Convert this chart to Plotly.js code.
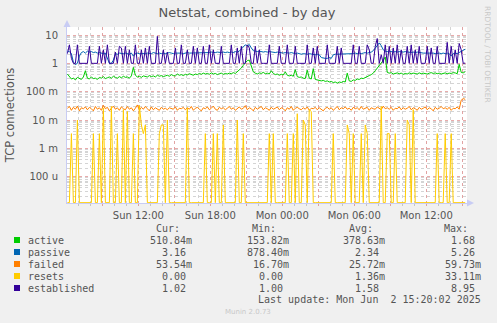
<!DOCTYPE html>
<html>
<head>
<meta charset="utf-8">
<script src="https://cdn.plot.ly/plotly-3.0.1.min.js"></script>
<style>html,body{margin:0;padding:0;background:#f0f0f0;}#chart{width:497px;height:323px;}</style>
</head>
<body>
<div id="chart"></div>
<script>
// ---- data (10-minute samples starting Sun 2025-06-01 06:05) ----
const startTime = '2025-06-01T06:05:00';
const stepMinutes = 10;

const active = [
0.42,0.33,0.28,0.3,0.26,0.32,0.3,0.27,0.33,0.55,
0.3,0.28,0.33,0.29,0.3,0.27,0.32,0.3,0.34,0.29,
0.31,0.33,0.3,0.35,0.32,0.3,0.34,0.31,0.35,0.32,
0.33,0.3,0.36,0.72,0.38,0.33,0.35,0.32,0.36,0.34,
0.33,0.37,0.34,0.36,0.33,0.38,0.35,0.37,0.34,0.36,
0.38,0.35,0.4,0.37,0.36,0.42,0.38,0.4,0.37,0.41,
0.39,0.43,0.4,0.38,0.42,0.4,0.44,0.41,0.45,0.42,
0.44,0.41,0.46,0.42,0.44,0.4,0.43,0.45,0.41,0.44,
0.42,0.45,0.43,0.47,0.44,0.5,0.6,0.68,0.85,1.05,
1.25,1.3,0.75,0.5,0.45,0.42,0.46,0.44,0.48,0.43,
0.45,0.42,0.55,0.44,0.4,0.42,0.38,0.41,0.39,0.5,
0.38,0.36,0.38,0.35,0.6,0.34,0.32,0.33,0.3,0.29,
0.57,0.3,0.28,0.65,0.27,0.26,0.25,0.24,0.25,0.23,
0.24,0.22,0.23,0.21,0.22,0.2,0.22,0.21,0.23,0.22,
0.45,0.24,0.23,0.26,0.25,0.28,0.27,0.3,0.29,0.32,
0.34,0.37,0.4,0.45,0.55,0.67,0.85,1.05,1.27,1.68,
0.48,0.45,0.47,0.42,0.44,0.46,0.43,0.45,0.41,0.44,
0.42,0.46,0.43,0.45,0.44,0.42,0.46,0.43,0.45,0.44,
0.42,0.45,0.47,0.44,0.46,0.43,0.45,0.42,0.44,0.46,
0.43,0.45,0.44,0.47,0.46,0.43,0.92,0.48,0.46,0.51];

const passive = [
2.7,2.6,2.2,1.1,0.9,1.0,1.8,2.4,2.6,2.3,
2.7,2.5,2.6,2.4,2.5,2.3,2.4,2.3,2.2,2.3,
1.6,1.0,1.0,1.3,2.2,2.1,2.3,2.2,2.2,2.3,
2.2,2.1,2.3,1.8,2.2,2.3,2.2,2.2,2.1,2.2,
2.3,2.2,2.2,2.4,2.3,2.2,2.3,2.2,2.3,2.2,
2.3,2.4,2.3,2.2,2.3,2.3,2.4,2.3,2.2,2.3,
2.4,2.3,2.3,2.4,2.3,2.4,2.3,2.4,2.3,2.4,
2.3,2.4,2.5,2.4,2.4,2.5,2.4,2.4,2.5,2.4,
2.5,2.4,2.5,2.4,2.6,2.5,2.7,3.2,3.8,4.5,
4.2,4.6,3.5,2.8,2.7,2.6,2.7,2.6,2.5,2.6,
2.5,2.6,2.5,2.5,2.4,2.5,2.4,2.4,2.3,2.4,
2.3,2.3,2.4,2.3,2.2,2.3,2.2,2.1,2.2,2.1,
2.1,2.2,2.1,2.1,2.0,2.1,2.0,1.6,1.5,1.5,
1.5,1.6,1.5,2.0,2.1,2.1,2.2,2.1,2.2,2.1,
2.2,2.1,2.2,2.2,2.3,2.2,2.3,2.2,2.3,2.4,
2.3,2.4,2.5,2.8,3.5,4.5,5.26,4.2,3.0,2.7,
2.6,2.7,2.6,2.5,2.6,2.5,2.6,2.5,2.5,2.6,
2.5,2.5,2.4,2.5,2.4,2.5,2.4,2.4,2.3,2.3,
2.3,2.4,2.3,2.3,2.2,2.3,2.3,2.2,2.3,2.2,
2.3,2.2,1.8,2.2,2.3,2.2,2.4,2.6,2.8,3.16];

const failed = [
0.026,0.03,0.022,0.028,0.024,0.031,0.021,0.027,0.025,0.029,
0.023,0.028,0.025,0.021,0.03,0.024,0.027,0.022,0.033,0.025,
0.028,0.021,0.026,0.031,0.024,0.027,0.022,0.029,0.025,0.023,
0.03,0.024,0.027,0.021,0.026,0.034,0.022,0.028,0.024,0.03,
0.025,0.021,0.029,0.023,0.027,0.025,0.022,0.028,0.024,0.026,
0.023,0.027,0.025,0.024,0.029,0.022,0.026,0.025,0.028,0.023,
0.027,0.024,0.03,0.022,0.026,0.028,0.024,0.021,0.027,0.025,
0.029,0.023,0.026,0.031,0.024,0.022,0.028,0.025,0.027,0.023,
0.026,0.03,0.024,0.027,0.022,0.025,0.029,0.024,0.026,0.032,
0.023,0.027,0.025,0.021,0.028,0.024,0.026,0.03,0.023,0.027,
0.025,0.022,0.028,0.024,0.026,0.029,0.023,0.027,0.025,0.021,
0.027,0.024,0.03,0.022,0.026,0.028,0.025,0.023,0.027,0.024,
0.029,0.022,0.026,0.025,0.028,0.023,0.027,0.024,0.021,0.026,
0.028,0.024,0.027,0.022,0.025,0.03,0.023,0.027,0.025,0.029,
0.024,0.026,0.022,0.028,0.025,0.027,0.023,0.03,0.024,0.026,
0.028,0.022,0.027,0.025,0.024,0.029,0.026,0.023,0.031,0.025,
0.027,0.024,0.028,0.022,0.026,0.025,0.029,0.023,0.027,0.024,
0.026,0.03,0.023,0.027,0.025,0.022,0.028,0.024,0.026,0.029,
0.023,0.027,0.025,0.021,0.028,0.024,0.026,0.03,0.025,0.027,
0.024,0.028,0.022,0.026,0.025,0.029,0.024,0.05,0.057,0.0535];

const resets = [
0,0,0.0033,0,0,0.01,0,0,0,0,
0,0,0,0.0033,0,0,0.0033,0,0.0267,0,
0,0,0.03,0,0,0.0033,0,0,0.0233,0,
0.02,0,0,0.0033,0,0,0.0331,0.0067,0.0033,0.0067,
0,0,0,0,0,0,0.0033,0.0067,0.0067,0,
0.01,0,0,0,0,0,0,0,0,0,
0.0267,0,0,0,0,0,0,0,0,0.0033,
0,0,0,0.0033,0,0.0033,0,0,0.0067,0,
0,0,0,0,0,0.01,0,0,0.0033,0,
0,0,0,0,0,0,0,0,0,0,
0,0.0033,0,0.0033,0,0,0,0,0,0,
0.0033,0,0,0.0033,0,0.0167,0,0,0.01,0.0067,
0,0.0233,0.02,0,0,0,0,0,0,0,
0,0,0,0.0033,0,0,0,0,0,0,
0.0067,0.0033,0,0.0033,0,0,0,0.0033,0,0.0067,
0.0033,0,0,0,0,0,0,0.03,0,0,
0.0033,0.0033,0,0,0.0033,0,0,0,0,0,
0.01,0.0067,0,0.0233,0,0,0,0,0,0,
0,0,0,0,0,0.0033,0,0,0,0.0033,
0,0,0.0033,0,0,0,0,0,0,0];

const established = [
2.2,4.5,1.5,1,1,4.5,1,1,1,1,
1,4,1,1,1,1,4,1,3,1,
4.5,1,1,1,2.5,1,4,3.5,1,4,
1,3,1,1,4.5,1,1,3,1,3.5,
1,4,1,1,1,8.95,1,1,3,1,
2.5,1,1,1,3.5,1,1,4.5,1,1,
3,1,1,4,1,3.5,1,1,4,1,
1,4.5,1,3,1,1,1,4,1,1,
1,1,4.5,1,1,3.5,1,4,1,1,
4.5,3.5,1,1,4,1,3,1,1,1,
1,4.5,1,1,1,1,4,1,1,1,
4.5,1,1,1,4,1,1,1,1,1,
4.5,1,1,3.5,1,4,1,1,1,1,
4.5,1,1,1,1,4,1,3.5,1,1,
1,1,1,4.5,1,1,4,1,1,1,
4.5,3,1,1,4,7.5,1,2,1,4.5,
1,4,1,3.5,1,4.5,1,3,1,1,
4,1,4.5,1,3,1,4,1,1,1,
4,1,3.5,1,1,4,1,1,1,1,
5.5,1,4,1,3,1,5,3,1,1.02];

const seriesNames = ['active','passive','failed','resets','established'];
const seriesColors = ['#00CC00','#0066B3','#FF8000','#FFCC00','#330099'];
const statCur = ['510.84m','3.16','53.54m','0.00','1.02'];
const statMin = ['153.82m','878.40m','16.70m','0.00','1.00'];
const statAvg = ['378.63m','2.34','25.72m','1.36m','1.58'];
const statMax = ['1.68','5.26','59.73m','33.11m','8.95'];

const yTickVals = [1e-4,1e-3,1e-2,0.1,1,10];
const yTickText = ['100 u','1 m','10 m','100 m','1','10'];
const xTickVals = ['2025-06-01 09:00','2025-06-01 12:00','2025-06-01 15:00','2025-06-01 18:00','2025-06-01 21:00',
  '2025-06-02 00:00','2025-06-02 03:00','2025-06-02 06:00','2025-06-02 09:00','2025-06-02 12:00','2025-06-02 15:00'];
const xTickText = ['','Sun 12:00','','Sun 18:00','','Mon 00:00','','Mon 06:00','','Mon 12:00',''];

// ---- layout geometry ----
const W = 497, H = 323;
const PL = 67, PR = 467, PT = 27, PB = 203;
const yLogRange = [-4.93, 1.283];
const floorVal = Math.pow(10, yLogRange[0] + 0.012);

function px2x(p){ return (p - PL) / (PR - PL); }
function px2y(p){ return (PB - p) / (PB - PT); }

const t0 = new Date(startTime + 'Z').getTime();
function timeAt(i){
  return new Date(t0 + i * stepMinutes * 60000).toISOString().slice(0,19).replace('T',' ');
}
const times = active.map((_, i) => timeAt(i));

const dataSets = [active, passive, failed, resets, established];
const traces = dataSets.map((arr, k) => ({
  x: times,
  y: arr.map(v => v > 0 ? v : floorVal),
  type: 'scatter', mode: 'lines',
  line: {color: seriesColors[k], width: 1},
  hoverinfo: 'skip'
}));

const minorY = [];
for (let d = -5; d <= 1; d++) for (let m = 2; m <= 9; m++) minorY.push(m * Math.pow(10, d));

const mono = {family: 'DejaVu Sans Mono', size: 10, color: '#555'};
const annotations = [];
const shapes = [];

// header
[['Cur:',182],['Min:',278],['Avg:',375],['Max:',470]].forEach(([t, r]) => {
  annotations.push({xref:'paper', yref:'paper', x: px2x(r), y: px2y(228), xanchor:'right', yanchor:'middle',
    text: t, showarrow:false, font: mono});
});
const rowY = [240, 252, 264, 276, 288];
const colR = [194, 291, 387, 483];
function fmt(s){ return /[a-zA-Z]$/.test(s) ? s : s + '\u00a0'; }
seriesNames.forEach((n, k) => {
  const yy = px2y(rowY[k]);
  shapes.push({type:'rect', xref:'paper', yref:'paper', x0: px2x(14), x1: px2x(20), y0: px2y(rowY[k]+3), y1: px2y(rowY[k]-3),
    fillcolor: seriesColors[k], line:{width:0}});
  annotations.push({xref:'paper', yref:'paper', x: px2x(26), y: yy, xanchor:'left', yanchor:'middle',
    text: n, showarrow:false, font: mono});
  [statCur, statMin, statAvg, statMax].forEach((col, c) => {
    annotations.push({xref:'paper', yref:'paper', x: px2x(colR[c]), y: yy, xanchor:'right', yanchor:'middle',
      text: fmt(col[k]), showarrow:false, font: mono});
  });
});
annotations.push({xref:'paper', yref:'paper', x: px2x(483), y: px2y(299), xanchor:'right', yanchor:'middle',
  text: 'Last update: Mon Jun\u00a0 2 15:20:02 2025', showarrow:false, font: mono});
annotations.push({xref:'paper', yref:'paper', x: px2x(248), y: px2y(312), xanchor:'center', yanchor:'middle',
  text: 'Munin 2.0.73', showarrow:false, font:{family:'DejaVu Sans', size:7, color:'#c8c8c8'}});
annotations.push({xref:'paper', yref:'paper', x: px2x(488), y: px2y(54), xanchor:'center', yanchor:'middle',
  text: 'RRDTOOL / TOBI OETIKER', textangle: 90, showarrow:false, font:{family:'DejaVu Sans', size:7.5, color:'#c8c8c8'}});

// axis arrows
const arrowCol = '#c8ccf4';
shapes.push({type:'path', xref:'paper', yref:'paper',
  path: `M ${px2x(63.5)},${px2y(27)} L ${px2x(70.5)},${px2y(27)} L ${px2x(67)},${px2y(20)} Z`,
  fillcolor: arrowCol, line:{width:0}});
shapes.push({type:'path', xref:'paper', yref:'paper',
  path: `M ${px2x(467)},${px2y(199.5)} L ${px2x(467)},${px2y(206.5)} L ${px2x(474)},${px2y(203)} Z`,
  fillcolor: arrowCol, line:{width:0}});

const majorGrid = 'rgba(228,150,150,0.8)';
const minorGrid = '#d4d4d4';
const layout = {
  width: W, height: H,
  margin: {l: PL, r: W - PR, t: PT, b: H - PB, pad: 0},
  paper_bgcolor: '#f0f0f0', plot_bgcolor: '#ffffff',
  showlegend: false,
  font: {family: 'DejaVu Sans', size: 10, color: '#555'},
  title: {text: 'Netstat, combined - by day', xref: 'paper', x: px2x(247), xanchor: 'center',
    yref: 'container', y: 1 - 12/H, yanchor: 'middle',
    font: {family: 'DejaVu Sans', size: 13, color: '#555'}},
  xaxis: {
    type: 'date', range: ['2025-06-01 06:03', '2025-06-02 15:24'],
    tickmode: 'array', tickvals: xTickVals, ticktext: xTickText,
    ticks: 'outside', ticklen: 2, tickcolor: majorGrid,
    showgrid: true, gridcolor: majorGrid, griddash: 'dot', gridwidth: 1,
    minor: {tickmode: 'linear', tick0: '2025-06-01 00:00', dtick: 3600000, showgrid: true, gridcolor: minorGrid, griddash: 'dot', gridwidth: 1,
      ticks: 'outside', ticklen: 2, tickcolor: '#c4c4c4'},
    showline: true, linecolor: arrowCol, linewidth: 1, zeroline: false,
    tickfont: {family: 'DejaVu Sans', size: 10, color: '#555'}, ticklabelstandoff: 1, fixedrange: true
  },
  yaxis: {
    type: 'log', range: yLogRange,
    tickmode: 'array', tickvals: yTickVals, ticktext: yTickText,
    ticks: '', showgrid: true, gridcolor: majorGrid, griddash: 'dot', gridwidth: 1,
    minor: {tickmode: 'array', tickvals: minorY, showgrid: true, gridcolor: minorGrid, griddash: 'dot', gridwidth: 1, ticks: ''},
    showline: true, linecolor: arrowCol, linewidth: 1, zeroline: false,
    tickfont: {family: 'DejaVu Sans', size: 10, color: '#555'}, ticklabelstandoff: 6,
    title: {text: 'TCP connections', font: {family: 'DejaVu Sans', size: 11.5, color: '#555'}, standoff: 8},
    fixedrange: true
  },
  annotations: annotations,
  shapes: shapes
};

Plotly.newPlot('chart', traces, layout, {staticPlot: true, displayModeBar: false});
</script>
</body>
</html>
